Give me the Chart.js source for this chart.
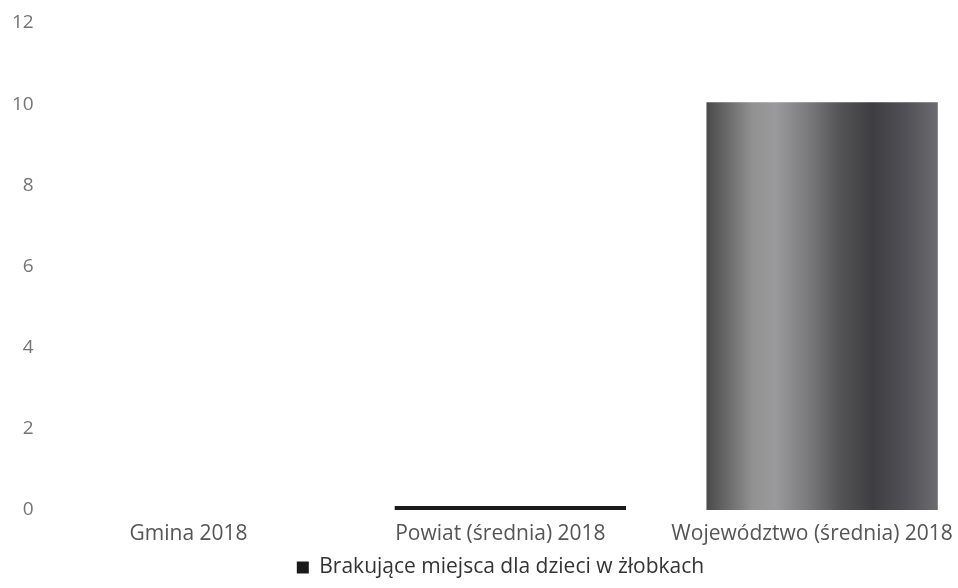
<!DOCTYPE html>
<html>
<head>
<meta charset="utf-8">
<script src="https://cdn.jsdelivr.net/npm/chart.js@4/dist/chart.umd.min.js"></script>
<style>
  html, body { margin: 0; padding: 0; background: #fff; overflow: hidden; }
  #wrap { width: 985px; height: 588px; }
</style>
</head>
<body>
<div id="wrap"><canvas id="chart"></canvas></div>
<script>
// #region Data
const categories = ["Gmina 2018", "Powiat (średnia) 2018", "Województwo (średnia) 2018"];
const seriesLabel = "Brakujące miejsca dla dzieci w żłobkach";
const missingPlaces = [0, 0.1, 10.05];
const yTicks = [0, 2, 4, 6, 8, 10, 12];
// #endregion

const BAR_PCT = 0.742;

// shaded grey fill, like a cylinder
const barFill = (ctx) => {
  const chart = ctx.chart;
  if (ctx.type !== "data" || !chart.chartArea) return "#707072";
  if (missingPlaces[ctx.dataIndex] < 1) return "#1a1a1a";
  const xs = chart.scales.x;
  const cx = xs.getPixelForValue(ctx.dataIndex);
  const w = (xs.width / categories.length) * BAR_PCT;
  const g = chart.ctx.createLinearGradient(cx - w / 2, 0, cx + w / 2, 0);
  g.addColorStop(0, "#4a4a4a");
  g.addColorStop(0.08, "#666666");
  g.addColorStop(0.2, "#929292");
  g.addColorStop(0.3, "#9a9a9c");
  g.addColorStop(0.44, "#7a7a7c");
  g.addColorStop(0.58, "#535355");
  g.addColorStop(0.72, "#3e3e42");
  g.addColorStop(0.86, "#515056");
  g.addColorStop(1, "#6c6b70");
  return g;
};

// nudge the legend a little to the right, as in the source
const legendShift = {
  id: "legendShift",
  afterLayout(chart) {
    if (chart.legend) {
      chart.legend.left += 6;
      chart.legend.right += 6;
    }
  },
};

new Chart(document.getElementById("chart"), {
  type: "bar",
  data: {
    labels: categories,
    datasets: [
      {
        label: seriesLabel,
        data: missingPlaces,
        backgroundColor: barFill,
        borderWidth: 0,
        categoryPercentage: 1,
        barPercentage: BAR_PCT,
      },
    ],
  },
  options: {
    responsive: true,
    maintainAspectRatio: false,
    animation: false,
    layout: { padding: { left: 11, top: 23, right: 7, bottom: 0 } },
    scales: {
      x: {
        grid: { display: false },
        border: { display: false },
        ticks: {
          color: "#555",
          font: { family: "'Open Sans'", size: 21, lineHeight: 1 },
          padding: 6,
          labelOffset: -10,
          maxRotation: 0,
          autoSkip: false,
        },
      },
      y: {
        min: 0,
        max: 12,
        afterBuildTicks: (axis) => {
          axis.ticks = yTicks.map((v) => ({ value: v }));
        },
        grid: { display: false },
        border: { display: false },
        ticks: {
          color: "#747474",
          font: { family: "'Open Sans'", size: 19 },
          padding: 1,
        },
      },
    },
    plugins: {
      legend: {
        position: "bottom",
        labels: {
          color: "#333",
          font: { family: "'Open Sans'", size: 21 },
          boxWidth: 12,
          boxHeight: 12,
          padding: 6,
        },
      },
      tooltip: { enabled: false },
    },
  },
  plugins: [legendShift],
});
</script>
</body>
</html>
